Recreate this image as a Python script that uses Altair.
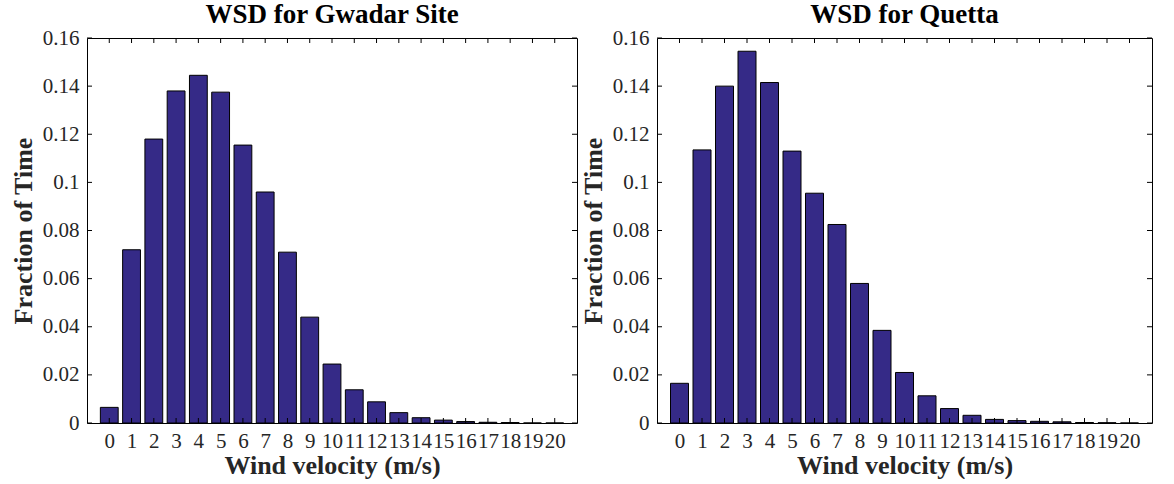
import altair as alt
import pandas as pd

speeds = list(range(21))
gwadar = [0.0065, 0.072, 0.118, 0.138, 0.1445, 0.1375, 0.1155, 0.096, 0.071, 0.044,
          0.0245, 0.0138, 0.0088, 0.0043, 0.0022, 0.0012, 0.0006, 0.0003, 0.0002, 0.0, 0.0]
quetta = [0.0165, 0.1135, 0.140, 0.1545, 0.1415, 0.113, 0.0955, 0.0825, 0.058, 0.0385,
          0.021, 0.0113, 0.006, 0.0032, 0.0015, 0.001, 0.0007, 0.0005, 0.0002, 0.0001, 0.0]
y_ticks = [0, 0.02, 0.04, 0.06, 0.08, 0.1, 0.12, 0.14, 0.16]
titles = ["WSD for Gwadar Site", "WSD for Quetta"]

FONT = "Liberation Serif"
BAR = "#352a87"
TL = 5
XT = "Wind velocity (m/s)"
YT = "Fraction of Time"


def panel(values, title, w, h):
    df = pd.DataFrame({"v": speeds, "f": values})
    df["x0"] = df["v"] - 0.4
    df["x1"] = df["v"] + 0.4
    xs = alt.Scale(domain=[-1, 21], nice=False, zero=False)
    ys = alt.Scale(domain=[0, 0.16], nice=False)
    xa = alt.Axis(values=speeds, format="d", tickSize=0, domain=False, grid=False,
                  labelPadding=7, titlePadding=1, labelFlush=False, labelOverlap=False)
    ya = alt.Axis(values=y_ticks, format="~g", tickSize=0, domain=False, grid=False,
                  labelPadding=8, titlePadding=6, labelFlush=False, labelOverlap=False)
    bars = alt.Chart(df).mark_bar(color=BAR, stroke="black", strokeWidth=1).encode(
        x=alt.X("x0:Q", scale=xs, title=XT, axis=xa),
        x2="x1:Q",
        y=alt.Y("f:Q", scale=ys, title=YT, axis=ya),
        y2=alt.Y2(datum=0),
    )
    xt = pd.DataFrame({"v": speeds})
    yt = pd.DataFrame({"t": y_ticks})
    bt = alt.Chart(xt).mark_rule(color="black", strokeWidth=1).encode(
        x=alt.X("v:Q", scale=xs, title=XT, axis=xa), y=alt.value(h), y2=alt.value(h - TL))
    tt = alt.Chart(xt).mark_rule(color="black", strokeWidth=1).encode(
        x=alt.X("v:Q", scale=xs, title=XT, axis=xa), y=alt.value(0), y2=alt.value(TL))
    lt = alt.Chart(yt).mark_rule(color="black", strokeWidth=1).encode(
        y=alt.Y("t:Q", scale=ys, title=YT, axis=ya), x=alt.value(0), x2=alt.value(TL))
    rt = alt.Chart(yt).mark_rule(color="black", strokeWidth=1).encode(
        y=alt.Y("t:Q", scale=ys, title=YT, axis=ya), x=alt.value(w), x2=alt.value(w - TL))
    return alt.layer(bars, bt, tt, lt, rt).properties(
        width=w, height=h,
        title=alt.TitleParams(title, font=FONT, fontSize=27, fontWeight="bold", color="black", offset=-2),
    )


left = panel(gwadar, titles[0], 490, 385)
right = panel(quetta, titles[1], 495, 385)

chart = alt.hconcat(left, right, spacing=1).properties(
    padding={"left": 9, "top": 0, "right": 5, "bottom": 0},
    background="white",
).configure_view(stroke="black", strokeWidth=1).configure_axis(
    labelFont=FONT, labelFontSize=21, labelColor="#262626",
    titleFont=FONT, titleFontSize=26, titleFontWeight="bold", titleColor="#262626",
)

chart.save("out.html", embed_options={"renderer": "svg", "actions": False})
